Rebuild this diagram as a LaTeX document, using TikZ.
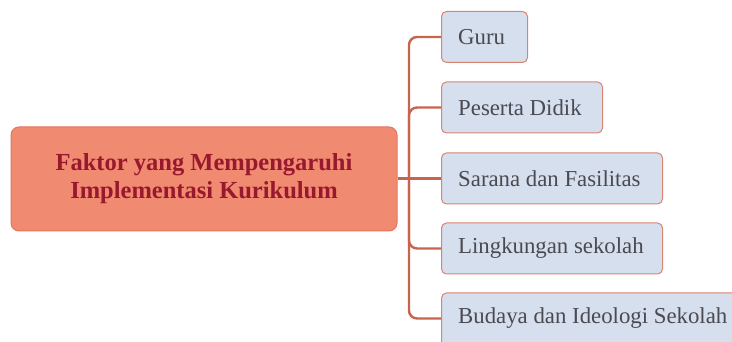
\documentclass[tikz,border=0pt]{standalone}
\usepackage{fontspec}
\setmainfont{Liberation Serif}
\definecolor{mainfill}{HTML}{F08A70}
\definecolor{mainedge}{HTML}{E2775D}
\definecolor{maintext}{HTML}{98182E}
\definecolor{childfill}{HTML}{D6DFEE}
\definecolor{childedge}{HTML}{D98470}
\definecolor{childtext}{HTML}{4A4A50}
\definecolor{linkcol}{HTML}{C8644E}
\begin{document}
\begin{tikzpicture}[x=1pt,y=-1pt,
  mainbox/.style={draw=mainedge,fill=mainfill,rounded corners=8pt,line width=1pt,
    minimum width=386pt,minimum height=104pt,align=center,text=maintext,
    font=\fontsize{24.5}{28}\selectfont\bfseries,inner sep=0pt},
  childbox/.style={draw=childedge,fill=childfill,rounded corners=5pt,line width=1pt,
    minimum height=51pt,anchor=west,inner sep=0pt},
  childtxt/.style={anchor=west,text=childtext,font=\fontsize{22.8}{26}\selectfont,inner sep=0pt},
  link/.style={draw=linkcol,line width=2.4pt,rounded corners=8pt}]
\useasboundingbox (0,0) rectangle (732,342);
\clip (0,0) rectangle (732,342);
\node[mainbox] (m) at (204,179) {Faktor yang Mempengaruhi\\Implementasi Kurikulum};
\node[childbox,minimum width=86pt] (c1) at (441,37) {};
\node[childbox,minimum width=161pt] (c2) at (441,107.5) {};
\node[childbox,minimum width=221pt] (c3) at (441,178.5) {};
\node[childbox,minimum width=221pt] (c4) at (441,248.5) {};
\node[childbox,minimum width=300pt,minimum height=54pt] (c5) at (441,320) {};
\node[childtxt] (t1) at (458,37) {Guru};
\node[childtxt] (t2) at (458,107.5) {Peserta Didik};
\node[childtxt] (t3) at (458,178.5) {Sarana dan Fasilitas};
\node[childtxt] (t4) at (458,248.5) {Lingkungan sekolah};
\node[childtxt] (t5) at (458,318.5) {Budaya dan Ideologi Sekolah};
\coordinate (tr) at (409,178.5);
\coordinate (b5) at (441,318.5);
\draw[link] (m.east |- tr) -- (c3.west);
\draw[link] (c1.west) -| (tr);
\draw[link] (c2.west) -| (tr);
\draw[link] (c4.west) -| (tr);
\draw[link] (b5) -| (tr);
\end{tikzpicture}
\end{document}
